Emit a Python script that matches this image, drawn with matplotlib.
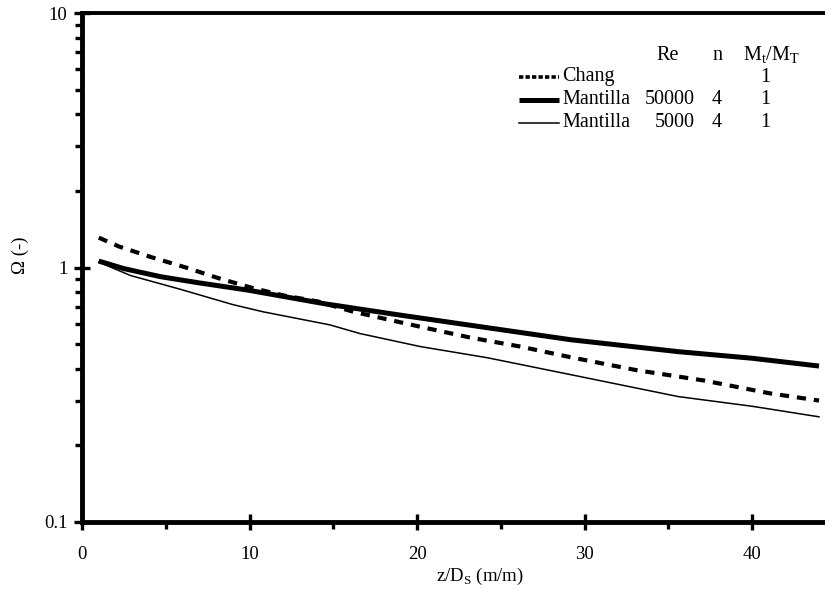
import matplotlib
matplotlib.use("Agg")
import matplotlib.pyplot as plt
from matplotlib.lines import Line2D
from matplotlib.ticker import FixedLocator, FuncFormatter, LogLocator, NullFormatter

plt.rcParams['font.family'] = ['Liberation Serif', 'DejaVu Serif']
plt.rcParams['mathtext.fontset'] = 'custom'
plt.rcParams['mathtext.rm'] = 'Liberation Serif'

# values
z_chang = [1.0, 2.2, 4.1, 6.2, 8.1, 10.2, 12.1, 14.1, 16.2, 20.2, 23.2, 26.1,
           29.1, 33.1, 37.1, 41.1, 44.0]
omega_chang = [1.31, 1.21, 1.10, 1.00, 0.91, 0.83, 0.775, 0.735, 0.67, 0.585,
               0.53, 0.49, 0.445, 0.395, 0.36, 0.32, 0.30]

z_m50000 = [1.0, 2.5, 4.7, 7.0, 9.9, 14.5, 19.0, 24.2, 29.2, 35.6, 40.0, 44.0]
omega_m50000 = [1.06, 0.99, 0.92, 0.87, 0.815, 0.72, 0.65, 0.58, 0.52, 0.467,
                0.44, 0.41]

z_m5000 = [1.0, 2.9, 5.9, 9.0, 10.8, 14.8, 16.6, 20.2, 24.2, 29.2, 35.6, 40.0, 44.0]
omega_m5000 = [1.05, 0.93, 0.82, 0.715, 0.67, 0.595, 0.55, 0.489, 0.442,
               0.379, 0.311, 0.285, 0.259]

legend_names = ['Chang', 'Mantilla', 'Mantilla']
legend_re = ['', '50000', '5000']
legend_n = ['', '4', '4']
legend_ratio = ['1', '1', '1']
legend_header = ['Re', 'n', r'M$_{\mathrm{t}}$/M$_{\mathrm{T}}$']

W, H = 825, 590


def px(x, y):
    # pixel position (from top-left) to figure fraction
    return x / W, 1 - y / H


fig = plt.figure(figsize=(W / 100, H / 100), dpi=100)
ax = fig.add_axes([82 / W, 1 - 522 / H, 45 * 16.75 / W, (522 - 13) / H])

chang_style = dict(color='black', lw=3.0, dashes=(2.2, 1.9))
m50000_style = dict(color='black', lw=3.6, solid_capstyle='butt')
m5000_style = dict(color='black', lw=1.1)

ax.plot(z_chang, omega_chang, **chang_style)
ax.plot(z_m50000, omega_m50000, **m50000_style)
ax.plot(z_m5000, omega_m5000, **m5000_style)

ax.set_yscale('log')
ax.set_ylim(0.1, 10)
ax.set_xlim(0, 45)

ax.xaxis.set_major_locator(FixedLocator([0, 10, 20, 30, 40]))
ax.xaxis.set_minor_locator(FixedLocator([5, 15, 25, 35]))
ax.yaxis.set_major_locator(LogLocator(base=10, numticks=5))
ax.yaxis.set_minor_locator(LogLocator(base=10, subs=range(2, 10), numticks=20))
ax.yaxis.set_major_formatter(FuncFormatter(lambda v, p: '%g' % v))
ax.yaxis.set_minor_formatter(NullFormatter())

ax.spines['right'].set_visible(False)
ax.spines['left'].set_linewidth(3.5)
ax.spines['bottom'].set_linewidth(3.5)
ax.spines['top'].set_linewidth(2.8)

ax.tick_params(which='major', direction='inout', length=11, width=2.4, labelsize=13.5)
ax.tick_params(which='minor', direction='out', length=5, width=2.4)
ax.tick_params(axis='x', which='major', pad=12)
ax.tick_params(axis='y', which='major', pad=5)

fig.text(*px(20, 255), 'Ω (-)', rotation=90, ha='center', va='center', fontsize=13.5)
fig.text(*px(480, 576), r'z/D$_{\mathrm{S}}$ (m/m)', ha='center', va='center', fontsize=13.5)

# table-like legend
fs = 14.5
for x, label in zip([668, 717, 771], legend_header):
    fig.text(*px(x, 55), label, ha='center', va='center', fontsize=fs)

row_y = [77, 100, 123]
sample_styles = [dict(color='black', lw=2.6, dashes=(1.2, 0.6)), m50000_style, m5000_style]
for i in range(3):
    y = row_y[i]
    x0, y0 = px(519, y)
    x1, _ = px(559, y)
    fig.add_artist(Line2D([x0, x1], [y0, y0], transform=fig.transFigure, **sample_styles[i]))
    fig.text(*px(562, y), legend_names[i], ha='left', va='center', fontsize=fs)
    fig.text(*px(695, y), legend_re[i], ha='right', va='center', fontsize=fs)
    fig.text(*px(717, y), legend_n[i], ha='center', va='center', fontsize=fs)
    fig.text(*px(765, y), legend_ratio[i], ha='center', va='center', fontsize=fs)

fig.savefig('out.png', dpi=100)
